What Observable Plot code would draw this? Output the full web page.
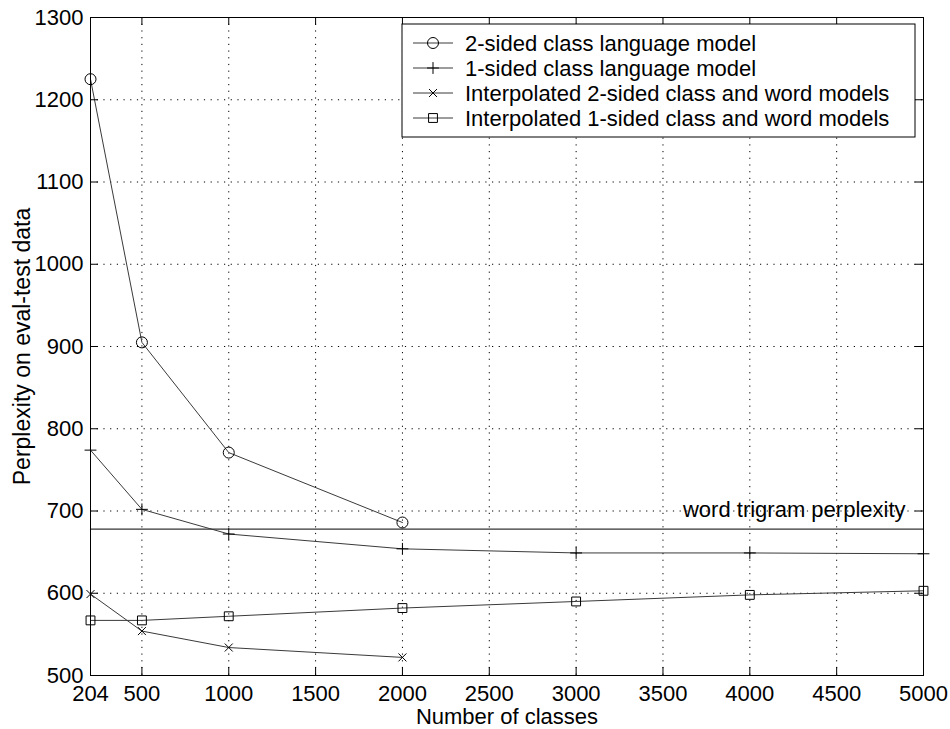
<!DOCTYPE html>
<html><head><meta charset="utf-8">
<script src="https://cdn.jsdelivr.net/npm/d3@7"></script>
<script src="https://cdn.jsdelivr.net/npm/@observablehq/plot@0.6"></script>
<style>body{margin:0;background:#fff}#chart{width:950px;height:729px}</style>
</head><body><div id="chart"></div>
<script>
// ---- data ----
const classesShort = [204, 500, 1000, 2000];
const classesLong = [204, 500, 1000, 2000, 3000, 4000, 5000];
const twoSided = [1225, 905, 771, 686];
const oneSided = [774, 702, 672, 654, 649, 649, 648];
const interp2 = [599, 554, 534, 522];
const interp1 = [567, 567, 572, 582, 590, 598, 603];
const trigramPerplexity = 678;
const trigramLabel = "word trigram perplexity";
const seriesNames = [
  "2-sided class language model",
  "1-sided class language model",
  "Interpolated 2-sided class and word models",
  "Interpolated 1-sided class and word models"
];
const xTicks = [204, 500, 1000, 1500, 2000, 2500, 3000, 3500, 4000, 4500, 5000];
const yTicks = [500, 600, 700, 800, 900, 1000, 1100, 1200, 1300];
const xLabel = "Number of classes";
const yLabel = "Perplexity on eval-test data";

// ---- build table ----
const seriesX = [classesShort, classesLong, classesShort, classesLong];
const seriesY = [twoSided, oneSided, interp2, interp1];
const rows = [];
seriesNames.forEach((name, i) => seriesX[i].forEach((x, j) => rows.push({series: name, idx: i, x, y: seriesY[i][j]})));

const symbols = ["circle", "plus", "times", "square"];
const radii = [5.5, 3.9, 3.7, 5.0];

const W = 950, H = 729;
const mL = 90, mR = 27, mT = 17, mB = 54;
const fw = W - mL - mR, fh = H - mT - mB;
const tickLen = 8;
const font = "'Liberation Sans', Arial, Helvetica, sans-serif";

const marks = [
  Plot.gridX(xTicks.slice(1, -1), {stroke: "#000", strokeOpacity: 1, strokeDasharray: "1.2,5.5"}),
  Plot.gridY(yTicks.slice(1, -1), {stroke: "#000", strokeOpacity: 1, strokeDasharray: "1.2,5.5"}),
  Plot.ruleY([trigramPerplexity], {stroke: "#000", strokeWidth: 1}),
  Plot.text([trigramLabel], {x: () => 5000, y: () => trigramPerplexity, text: d => d, textAnchor: "end", dx: -18, dy: -19, fill: "#000"}),
  Plot.line(rows, {x: "x", y: "y", z: "series", stroke: "#3a3a3a", strokeWidth: 1})
];
seriesNames.forEach((name, i) => {
  marks.push(Plot.dot(rows.filter(d => d.idx === i), {x: "x", y: "y", symbol: () => symbols[i], r: radii[i], stroke: "#000", strokeWidth: 1, fill: "none"}));
});
marks.push(
  Plot.frame({stroke: "#000", strokeWidth: 1}),
  Plot.tickX(xTicks, {x: d => d, insetTop: fh - tickLen, stroke: "#000"}),
  Plot.tickX(xTicks, {x: d => d, insetBottom: fh - tickLen, stroke: "#000"}),
  Plot.tickY(yTicks, {y: d => d, insetRight: fw - tickLen, stroke: "#000"}),
  Plot.tickY(yTicks, {y: d => d, insetLeft: fw - tickLen, stroke: "#000"}),
  Plot.axisX(xTicks, {tickSize: 0, tickPadding: 10, tickFormat: d => String(d), label: null, fill: "#000"}),
  Plot.axisY(yTicks, {tickSize: 0, tickPadding: 7, tickFormat: d => String(d), label: null, fill: "#000"}),
  Plot.text([xLabel], {frameAnchor: "bottom", text: d => d, lineAnchor: "top", dy: 33, fontSize: 22, fill: "#000"}),
  Plot.text([yLabel], {frameAnchor: "left", text: d => d, rotate: -90, textAnchor: "middle", lineAnchor: "middle", dx: -68, fontSize: 23, fill: "#000"})
);

const chart = Plot.plot({
  width: W, height: H,
  marginLeft: mL, marginRight: mR, marginTop: mT, marginBottom: mB,
  x: {type: "linear", domain: [204, 5000]},
  y: {type: "linear", domain: [500, 1300]},
  style: {fontFamily: font, fontSize: "22px", color: "#000", background: "#fff", overflow: "visible"},
  marks
});

// ---- legend ----
const svg = d3.select(chart);
const lg = svg.append("g").attr("text-anchor", "start");
const bx = 402, by = 24, bw = 513, bh = 113, rowH = 25;
lg.append("rect").attr("x", bx).attr("y", by).attr("width", bw).attr("height", bh)
  .attr("fill", "#fff").attr("stroke", "#000").attr("stroke-width", 1);
const d3sym = {circle: d3.symbolCircle, plus: d3.symbolPlus, times: d3.symbolTimes, square: d3.symbolSquare};
seriesNames.forEach((name, i) => {
  const cy = by + 19 + i * rowH;
  lg.append("line").attr("x1", bx + 11).attr("x2", bx + 51).attr("y1", cy).attr("y2", cy)
    .attr("stroke", "#3a3a3a").attr("stroke-width", 1);
  lg.append("path").attr("transform", `translate(${bx + 31},${cy})`)
    .attr("d", d3.symbol(d3sym[symbols[i]], Math.PI * radii[i] * radii[i])())
    .attr("fill", "none").attr("stroke", "#000").attr("stroke-width", 1);
  lg.append("text").attr("x", bx + 63).attr("y", cy).attr("dy", "0.36em")
    .attr("text-anchor", "start")
    .attr("font-family", font).attr("font-size", 22).attr("fill", "#000").text(name);
});

document.getElementById("chart").appendChild(chart);
</script>
</body></html>
